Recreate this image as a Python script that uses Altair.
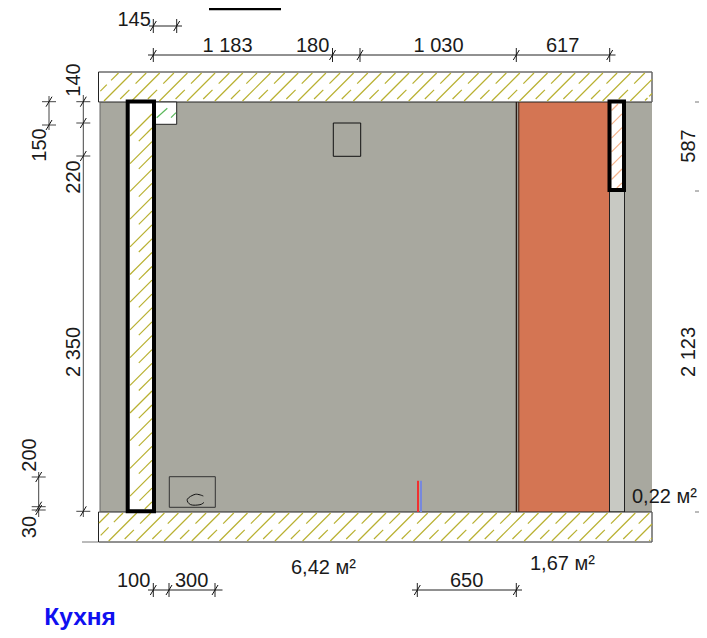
import altair as alt
import pandas as pd

# all positions below are drawing coordinates of the elevation
WIDTH, HEIGHT = 691, 622
X_DOMAIN = [8, 699]
Y_DOMAIN = [630, 8]

# filled / outlined rectangles: x, x2, y, y2, fill, stroke, stroke width
RECTS = [
    (100, 652, 102, 512, "#a8a89f", "#a8a89f", 0),
    (518, 609, 102, 512, "#d47553", "#d47553", 0),
    (609.5, 624.5, 190, 512, "#c8c9c3", "#222222", 1),
    (98.5, 652, 72, 102, "#ffffff", "#222222", 1),
    (98.5, 652, 512, 542, "#ffffff", "#222222", 1),
    (127.7, 154, 101.5, 511.3, "#ffffff", "#ffffff", 0),
    (154, 176.7, 102, 124.3, "#ffffff", "#222222", 1),
    (609.5, 624, 101.5, 190, "#ffffff", "#ffffff", 0),
    (333.3, 360.7, 123, 156.3, "transparent", "#111111", 1),
    (169.3, 215.3, 476.7, 507.3, "transparent", "#333333", 1),
]
OUTLINES = [
    (127.7, 154, 101.5, 511.3, "transparent", "#000000", 4),
    (609.5, 624, 101.5, 190, "transparent", "#000000", 4),
]

# hatch families: x0, x1, y0, y1, first offset, period, count, colour, dash fractions
LONG = [(0.0, 1.0)]
PAIR = [(0.07, 0.40), (0.62, 1.0)]
LOWER = [(0.40, 1.0)]
HATCH = [
    (99, 652, 73, 101, 205, 27.7, 23, "#b8b030", LONG),
    (99, 652, 73, 101, 191.5, 27.7, 23, "#b8b030", PAIR),
    (99, 652, 513, 541, 622, 27.7, 24, "#b8b030", LONG),
    (99, 652, 513, 541, 636, 27.7, 24, "#b8b030", PAIR),
    (130, 152, 104, 509, 266, 27.7, 16, "#b8b030", LONG),
    (130, 152, 104, 509, 280, 27.7, 15, "#b8b030", LOWER),
    (611.5, 622, 104, 188, 722, 13.8, 7, "#f5b48c", LONG),
]
GREEN_HATCH = [
    (156.7, 117.7, 167.3, 108.3),
    (171, 117.7, 176, 112.7),
]

# plain lines: x, y, x2, y2, colour, width
LINES = [
    (100, 102, 100, 512, "#666666", 1),
    (516.4, 102, 516.4, 512, "#2a1a14", 1.4),
    (518.8, 102, 518.8, 512, "#3a2a24", 1),
    (609.5, 190, 609.5, 512, "#222222", 1),
    (652, 72, 652, 102, "#888888", 1),
    (652, 512, 652, 542, "#888888", 1),
    (418, 480.7, 418, 512, "#f03030", 2),
    (421, 480.7, 421, 512, "#7788dd", 2),
    (82, 542, 98, 542, "#777777", 1),
    (209, 9, 281, 9, "#000000", 2.5),
    (695, 102, 699, 102, "#777777", 1),
    (695, 191, 699, 191, "#777777", 1),
    (695, 512, 699, 512, "#777777", 1),
]

# dimension chains: fixed coordinate, start, end, tick positions
H_DIMS = [
    (26, 149, 182, [153.3, 176.7]),
    (55, 148, 615.5, [153.3, 332.5, 360, 516.3, 609.7]),
    (590, 148, 222.5, [153.3, 169, 215]),
    (590, 412, 522, [417.3, 516.3]),
]
V_DIMS = [
    (83.3, 95, 517, [101.7, 123, 156, 511.3]),
    (49, 96, 130, [101.7, 125]),
    (38.7, 472, 517, [477, 506.7, 510]),
]

SINK_X = [203.3, 195.3, 187.3, 190.7, 200, 204]
SINK_Y = [496, 494.3, 499.3, 504.7, 504.7, 502.3]

TEXT_H = [
    ("145", 117.5, 26.2), ("1 183", 202.5, 52), ("180", 296, 52), ("1 030", 413.5, 52),
    ("617", 546, 52), ("6,42 м²", 291, 574), ("1,67 м²", 530, 570), ("0,22 м²", 632, 502.7),
    ("100", 117, 586.7), ("300", 175, 586.7), ("650", 450, 586.7),
]
TEXT_V = [
    ("140", 80, 80), ("150", 46, 145), ("220", 80, 177), ("2 350", 80, 352),
    ("200", 36, 455), ("30", 36, 527), ("587", 695, 146), ("2 123", 695, 352),
]
ROOM = [("Кухня", 44.3, 625)]


def hatch_segments(x0, x1, y0, y1, c0, period, count, color, dashes):
    out = []
    for k in range(count):
        c = c0 + k * period
        # line x + y = c clipped to the box, running from lower-left to upper-right
        ax = max(x0, c - y1)
        bx = min(x1, c - y0)
        if bx <= ax:
            continue
        for f0, f1 in dashes:
            sx = ax + f0 * (bx - ax)
            ex = ax + f1 * (bx - ax)
            out.append(dict(x=sx, y=c - sx, x2=ex, y2=c - ex, color=color, w=1.2))
    return out


segments = [dict(x=a, y=b, x2=c, y2=d, color=e, w=f) for a, b, c, d, e, f in LINES]
for fam in HATCH:
    segments += hatch_segments(*fam)
for a, b, c, d in GREEN_HATCH:
    segments.append(dict(x=a, y=b, x2=c, y2=d, color="#5cb85c", w=1.2))
for y, a, b, ticks in H_DIMS:
    segments.append(dict(x=a, y=y, x2=b, y2=y, color="#222222", w=1))
    for t in ticks:
        segments.append(dict(x=t, y=y - 7, x2=t, y2=y + 7, color="#222222", w=1))
        segments.append(dict(x=t - 3, y=y + 5, x2=t + 3, y2=y - 5, color="#111111", w=1))
for x, a, b, ticks in V_DIMS:
    segments.append(dict(x=x, y=a, x2=x, y2=b, color="#444444", w=1))
    for t in ticks:
        segments.append(dict(x=x - 7, y=t, x2=x + 7, y2=t, color="#444444", w=1))
        segments.append(dict(x=x - 3, y=t + 5, x2=x + 3, y2=t - 5, color="#111111", w=1))

sx = alt.Scale(domain=X_DOMAIN, range=[0, WIDTH], nice=False, zero=False)
sy = alt.Scale(domain=Y_DOMAIN, range=[HEIGHT, 0], nice=False, zero=False)


def rect_layer(rows):
    df = pd.DataFrame(rows, columns=["x", "x2", "y", "y2", "fill", "stroke", "sw"])
    return alt.Chart(df).mark_rect().encode(
        x=alt.X("x:Q", scale=sx, axis=None),
        x2="x2:Q",
        y=alt.Y("y:Q", scale=sy, axis=None),
        y2="y2:Q",
        fill=alt.Fill("fill:N", scale=None),
        stroke=alt.Stroke("stroke:N", scale=None),
        strokeWidth=alt.StrokeWidth("sw:Q", scale=None),
    )


rule_layer = alt.Chart(pd.DataFrame(segments)).mark_rule().encode(
    x=alt.X("x:Q", scale=sx, axis=None),
    x2="x2:Q",
    y=alt.Y("y:Q", scale=sy, axis=None),
    y2="y2:Q",
    color=alt.Color("color:N", scale=None),
    strokeWidth=alt.StrokeWidth("w:Q", scale=None),
)

sink = alt.Chart(pd.DataFrame({"x": SINK_X, "y": SINK_Y, "o": range(len(SINK_X))})).mark_line(
    color="#111111", strokeWidth=1, interpolate="cardinal"
).encode(
    x=alt.X("x:Q", scale=sx, axis=None),
    y=alt.Y("y:Q", scale=sy, axis=None),
    order="o:Q",
)

text_h = alt.Chart(pd.DataFrame(TEXT_H, columns=["t", "x", "y"])).mark_text(
    font="Liberation Sans", fontSize=20, align="left", baseline="alphabetic", color="#1a1a1a"
).encode(
    x=alt.X("x:Q", scale=sx, axis=None),
    y=alt.Y("y:Q", scale=sy, axis=None),
    text="t:N",
)
text_v = alt.Chart(pd.DataFrame(TEXT_V, columns=["t", "x", "y"])).mark_text(
    font="Liberation Sans", fontSize=20, align="center", baseline="alphabetic", angle=270, color="#1a1a1a"
).encode(
    x=alt.X("x:Q", scale=sx, axis=None),
    y=alt.Y("y:Q", scale=sy, axis=None),
    text="t:N",
)
room = alt.Chart(pd.DataFrame(ROOM, columns=["t", "x", "y"])).mark_text(
    font="Liberation Sans", fontSize=24.5, fontWeight="bold", align="left", baseline="alphabetic", color="#1010f0"
).encode(
    x=alt.X("x:Q", scale=sx, axis=None),
    y=alt.Y("y:Q", scale=sy, axis=None),
    text="t:N",
)

chart = alt.layer(
    rect_layer(RECTS), rule_layer, rect_layer(OUTLINES), sink, text_h, text_v, room
).properties(
    width=WIDTH, height=HEIGHT, padding=0, autosize=alt.AutoSizeParams(type="none"), background="#ffffff"
).configure_view(stroke=None)

chart.save("out.html", embed_options={"renderer": "svg", "actions": False})
